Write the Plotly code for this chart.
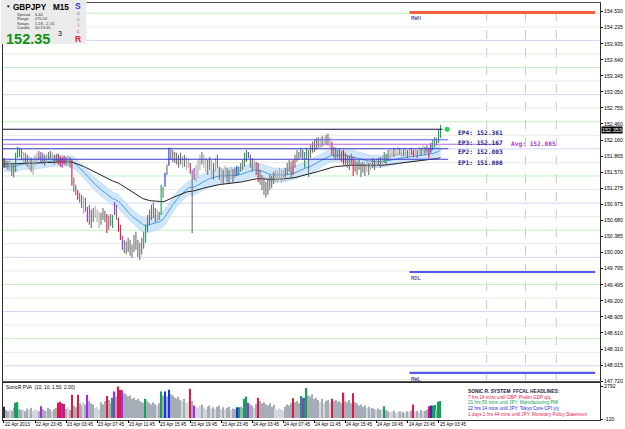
import numpy as np
import plotly.graph_objects as go

# ---------------- data ----------------
bar_high = [151.83, 151.80, 151.78, 151.80, 151.74, 151.71, 151.93, 152.04, 152.02, 152.00,
            151.94, 151.93, 151.89, 151.87, 151.83, 151.80, 151.89, 151.93, 151.96, 151.94,
            151.93, 151.89, 151.91, 151.94, 151.96, 151.93, 151.89, 151.91, 151.91, 151.87,
            151.85, 151.87, 151.85, 151.87, 151.85, 151.80, 151.47, 151.34, 151.24, 151.19,
            151.15, 151.12, 151.10, 150.93, 150.97, 150.88, 150.91, 150.95, 150.88, 150.84,
            150.82, 150.91, 150.86, 150.80, 150.77, 150.80, 150.78, 151.02, 150.97, 150.73,
            150.60, 150.40, 150.32, 150.29, 150.36, 150.32, 150.23, 150.41, 150.47, 150.32,
            150.27, 150.36, 150.47, 150.60, 150.78, 150.88, 150.97, 151.01, 150.91, 150.88,
            150.84, 151.34, 151.30, 151.56, 151.71, 152.02, 152.02, 151.98, 151.94, 151.93,
            151.89, 151.93, 151.87, 151.89, 151.85, 151.83, 151.74, 151.61, 151.65, 151.71,
            151.80, 151.89, 151.94, 151.89, 151.83, 151.80, 151.85, 151.80, 151.74, 151.83,
            151.89, 151.67, 151.65, 151.61, 151.69, 151.65, 151.61, 151.67, 151.63, 151.65,
            151.69, 151.67, 151.74, 151.80, 151.93, 151.98, 151.94, 151.89, 151.83, 151.80,
            151.76, 151.74, 151.61, 151.52, 151.47, 151.39, 151.43, 151.52, 151.50, 151.58,
            151.61, 151.59, 151.65, 151.61, 151.61, 151.65, 151.74, 151.80, 151.76, 151.80,
            151.89, 151.98, 151.94, 152.02, 151.98, 151.94, 152.02, 151.98, 152.07, 152.13,
            152.17, 152.20, 152.22, 152.20, 152.24, 152.22, 152.26, 152.28, 152.22, 152.13,
            152.04, 152.02, 151.98, 152.00, 151.96, 151.98, 151.93, 151.89, 151.87, 151.91,
            151.85, 151.80, 151.76, 151.80, 151.74, 151.76, 151.72, 151.78, 151.74, 151.80,
            151.83, 151.80, 151.82, 151.83, 151.85, 151.87, 151.94, 151.91, 151.98, 152.00,
            151.98, 152.02, 152.00, 152.04, 152.02, 151.98, 152.00, 152.02, 151.98, 152.00,
            152.02, 151.98, 152.00, 151.98, 152.04, 152.02, 152.06, 152.04, 152.07, 152.02,
            152.11, 152.17, 152.22, 152.20, 152.35, 152.44]

bar_low = [151.65, 151.65, 151.61, 151.59, 151.50, 151.47, 151.58, 151.83, 151.85, 151.80,
           151.74, 151.71, 151.67, 151.61, 151.58, 151.52, 151.69, 151.74, 151.80, 151.76,
           151.72, 151.69, 151.74, 151.80, 151.82, 151.76, 151.71, 151.74, 151.71, 151.67,
           151.65, 151.71, 151.69, 151.69, 151.65, 151.32, 151.21, 151.15, 151.06, 151.01,
           150.91, 150.80, 150.84, 150.65, 150.60, 150.54, 150.65, 150.73, 150.65, 150.54,
           150.60, 150.69, 150.65, 150.45, 150.51, 150.58, 150.54, 150.78, 150.69, 150.47,
           150.32, 150.14, 150.08, 150.05, 150.10, 150.03, 149.99, 150.10, 150.14, 150.01,
           149.95, 150.05, 150.16, 150.27, 150.47, 150.60, 150.69, 150.73, 150.65, 150.65,
           150.69, 150.78, 151.10, 151.30, 151.52, 151.69, 151.80, 151.76, 151.74, 151.71,
           151.65, 151.71, 151.65, 151.67, 151.61, 151.65, 151.54, 150.45, 151.43, 151.39,
           151.47, 151.61, 151.71, 151.65, 151.58, 151.52, 151.61, 151.47, 151.43, 151.58,
           151.65, 151.43, 151.37, 151.34, 151.47, 151.39, 151.37, 151.45, 151.39, 151.47,
           151.50, 151.52, 151.58, 151.61, 151.67, 151.76, 151.83, 151.65, 151.58, 151.61,
           151.52, 151.39, 151.34, 151.24, 151.15, 151.10, 151.15, 151.24, 151.28, 151.35,
           151.39, 151.37, 151.43, 151.37, 151.41, 151.47, 151.52, 151.58, 151.47, 151.52,
           151.65, 151.76, 151.80, 151.83, 151.80, 151.65, 151.80, 151.48, 151.83, 151.93,
           151.94, 151.98, 152.02, 152.00, 152.04, 152.06, 152.07, 152.06, 152.02, 151.89,
           151.83, 151.80, 151.83, 151.80, 151.76, 151.71, 151.69, 151.65, 151.61, 151.69,
           151.50, 151.58, 151.52, 151.61, 151.48, 151.56, 151.50, 151.58, 151.52, 151.61,
           151.65, 151.61, 151.67, 151.69, 151.65, 151.71, 151.74, 151.71, 151.80, 151.83,
           151.85, 151.85, 151.87, 151.87, 151.89, 151.83, 151.87, 151.85, 151.83, 151.85,
           151.89, 151.85, 151.87, 151.83, 151.89, 151.87, 151.91, 151.89, 151.93, 151.83,
           151.93, 151.98, 152.02, 152.06, 152.11, 152.20]

# PVA classes: k dark, g gray, l light gray, R red, G green, B blue, P purple
bar_kind = list("kgglggGGgg" "lgglglllgP" "gglgglggRR" "PRglgRggRg" "glgPggglll"
                "gggRggGPgR" "RPgggggggg" "gggGgggggl" "gGgBgBgggg" "gglgllRgPl"
                "llgllgglgl" "gglglgglgg" "BGggGGPggl" "gRgggggggg" "lllllggggR"
                "gggGPGGggg" "ggglglgglR" "gggggRgggg" "Rgggggglgl" "gglgglGggl"
                "lgllglglgl" "gRlglglggR" "BGGgGG")

bar_volume = [1000, 700, 600, 800, 650, 900, 1350, 1400, 800, 700,
              750, 600, 850, 700, 900, 650, 750, 700, 600, 1050,
              800, 650, 700, 900, 750, 600, 800, 900, 1350, 1450,
              1300, 1250, 800, 950, 700, 2050, 1100, 950, 2050, 1300,
              1100, 1400, 1200, 2050, 1500, 1300, 1200, 900, 1000, 800,
              1400, 1200, 1500, 1950, 1600, 1300, 1800, 2350, 1900, 2792,
              2500, 2450, 2200, 2100, 1900, 2000, 1700, 1800, 1600, 1700,
              1500, 1400, 1350, 1700, 1500, 1350, 1200, 1400, 1250, 1100,
              1300, 2350, 2000, 2350, 1900, 2500, 2100, 2000, 1800, 1700,
              1900, 1600, 1500, 1700, 1300, 1400, 2600, 1500, 1100, 1000,
              900, 1100, 1200, 900, 800, 1000, 1100, 850, 950, 800,
              1000, 1100, 800, 950, 750, 900, 1000, 700, 850, 800,
              950, 950, 1000, 900, 1700, 1900, 1350, 1200, 1100, 900,
              1250, 1800, 1500, 1300, 1400, 1200, 1100, 1300, 1000, 1150,
              800, 700, 850, 750, 650, 1000, 1200, 1100, 1300, 1750,
              1400, 1500, 1300, 1950, 1800, 1800, 2650, 2000, 1900, 2100,
              1700, 1800, 1600, 1400, 1700, 1300, 1500, 1600, 1350, 1700,
              1500, 1600, 1400, 1500, 1300, 2250, 1500, 1400, 1600, 1300,
              2200, 1400, 1300, 1100, 1200, 1000, 1100, 900, 1000, 850,
              900, 800, 750, 850, 700, 800, 1050, 700, 600, 500,
              550, 650, 450, 500, 600, 400, 550, 450, 600, 500,
              650, 1200, 550, 650, 500, 700, 600, 650, 750, 1050,
              1100, 1100, 1150, 750, 1450, 1500]

# moving-average starting values (read at the left edge)
ema_fast_seed = 151.67
ema_fast_hi_seed = 151.76
ema_fast_lo_seed = 151.58
ema_slow_seed = 151.72

ep_names = ["EP4", "EP3", "EP2", "EP1"]
ep_levels = [152.361, 152.167, 152.003, 151.808]
avg_level = 152.085
range_names = ["RWH", "RDL", "RWL"]
range_levels = [154.514, 149.730, 147.869]
current_price = 152.353

time_labels = ["22 Apr 2013", "22 Apr 23:45", "23 Apr 03:45", "23 Apr 07:45", "23 Apr 11:45",
               "23 Apr 15:45", "23 Apr 19:45", "23 Apr 23:45", "24 Apr 03:45", "24 Apr 07:45",
               "24 Apr 11:45", "24 Apr 15:45", "24 Apr 19:45", "24 Apr 23:45", "25 Apr 03:45"]
time_label_bars = [0, 16, 32, 48, 64, 80, 96, 112, 128, 144, 160, 176, 192, 208, 224]
future_session_bars = [248.8, 268.8, 284.7]

price_ticks = [154.530, 154.235, 153.935, 153.640, 153.345, 153.050, 152.755, 152.460,
               152.160, 151.865, 151.570, 151.275, 150.975, 150.680, 150.385, 150.090,
               149.795, 149.495, 149.200, 148.905, 148.610, 148.310, 148.015, 147.720]
volume_ticks = [2792, -120]

headlines = ["7 hrs 14 mins until GBP: Prelim GDP q/q",
             "21 hrs 59 mins until JPY: Manufacturing PMI",
             "22 hrs 14 mins until JPY: Tokyo Core CPI y/y",
             "1 days 1 hrs 44 mins until JPY: Monetary Policy Statement"]

# ---------------- styles ----------------
candle_col = {'k': '#1c1c1c', 'g': '#707070', 'l': '#adadad', 'R': '#e5163f',
              'G': '#13a058', 'B': '#1533ee', 'P': '#a628ee'}
vol_col = {'k': '#2e2e38', 'g': '#a6adb6', 'l': '#d3d6da', 'R': '#e5163f',
           'G': '#13a058', 'B': '#1533ee', 'P': '#a628ee'}
headline_col = ['#e5163f', '#13a058', '#1e1ee0', '#e5164f']

W, H = 625, 429
ML, MR, MT, MB = 2, 22, 3, 9
PW = W - ML - MR
PH = H - MT - MB
SP = 1.953                      # px per bar
x_lo = -1.0 / SP
x_hi = x_lo + PW / SP


def px(x):
    return (x - ML) / PW


def py(y):
    return (H - MB - y) / PH


n = len(bar_high)
idx = np.arange(n)
hi = np.array(bar_high)
lo = np.array(bar_low)
med = (hi + lo) / 2


def ema(values, period, seed):
    a = 2.0 / (period + 1)
    out, v = [], seed
    for x in values:
        v = v + a * (x - v)
        out.append(v)
    return out


ema34 = ema(med, 34, ema_fast_seed)
ema34h = ema(hi, 34, ema_fast_hi_seed)
ema34l = ema(lo, 34, ema_fast_lo_seed)
ema89 = ema(med, 89, ema_slow_seed)

fig = go.Figure()

# Dragon band
fig.add_trace(go.Scatter(x=idx, y=ema34l, mode='lines', line=dict(color='#b9d9f5', width=0.8),
                         hoverinfo='skip', xaxis='x', yaxis='y'))
fig.add_trace(go.Scatter(x=idx, y=ema34h, mode='lines', line=dict(color='#b9d9f5', width=0.8),
                         fill='tonexty', fillcolor='rgba(200,226,249,0.85)',
                         hoverinfo='skip', xaxis='x', yaxis='y'))
fig.add_trace(go.Scatter(x=idx, y=ema34, mode='lines', line=dict(color='#4a9de6', width=1),
                         hoverinfo='skip', xaxis='x', yaxis='y'))
fig.add_trace(go.Scatter(x=idx, y=ema89, mode='lines', line=dict(color='#1e1e1e', width=1),
                         hoverinfo='skip', xaxis='x', yaxis='y'))

# candles as high-low sticks grouped by class colour
for k, col in candle_col.items():
    xs, ys = [], []
    for i in range(n):
        if bar_kind[i] == k:
            xs += [i, i, None]
            ys += [bar_low[i], bar_high[i], None]
    if xs:
        fig.add_trace(go.Scatter(x=xs, y=ys, mode='lines', line=dict(color=col, width=1.1),
                                 hoverinfo='skip', xaxis='x', yaxis='y'))

# current price dot
fig.add_trace(go.Scatter(x=[228.4], y=[ep_levels[0]], mode='markers',
                         marker=dict(color='#22d845', size=5), hoverinfo='skip',
                         xaxis='x', yaxis='y'))

# PVA volume
fig.add_trace(go.Bar(x=idx, y=bar_volume, width=0.66,
                     marker=dict(color=[vol_col[k] for k in bar_kind], line=dict(width=0)),
                     hoverinfo='skip', xaxis='x2', yaxis='y2'))

shapes = []
# quarter levels
lvl = 147.75
while lvl < 154.7:
    frac = round(lvl % 1, 2)
    c = '#d4d4f7' if frac == 0 else ('#c3efc3' if frac == 0.5 else '#ebe9df')
    shapes.append(dict(type='line', xref='x', yref='y', x0=x_lo, x1=x_hi, y0=lvl, y1=lvl,
                       line=dict(color=c, width=1), layer='below'))
    lvl += 0.25
# future session separators
for b in future_session_bars:
    shapes.append(dict(type='line', xref='x', yref='y domain', x0=b, x1=b, y0=0, y1=1,
                       line=dict(color='#c9c9c9', width=1, dash='dash'), layer='below'))
# EP and average lines
ep_colors = ['#0c0c3c', '#5b5be2', '#3c3cc8', '#3a3ad2']
ep_ends = [226, 229, 229, 229]
for lv, c, e in zip(ep_levels, ep_colors, ep_ends):
    shapes.append(dict(type='line', xref='x', yref='y', x0=x_lo, x1=e, y0=lv, y1=lv,
                       line=dict(color=c, width=1.1)))
shapes.append(dict(type='line', xref='x', yref='y', x0=x_lo, x1=256, y0=avg_level, y1=avg_level,
                   line=dict(color='#b865d2', width=1.1)))
# range lines
range_colors = ['#f0603e', '#5757ee', '#5757ee']
range_widths = [3.2, 2, 2.2]
for lv, c, w in zip(range_levels, range_colors, range_widths):
    shapes.append(dict(type='line', xref='x', yref='y', x0=209, x1=304.7, y0=lv, y1=lv,
                       line=dict(color=c, width=w)))
# info panel background
shapes.append(dict(type='rect', xref='paper', yref='paper', x0=px(0), x1=px(86), y0=py(44), y1=py(0),
                   fillcolor='#ebebeb', line=dict(width=0)))

ann = []
mono = 'DejaVu Sans Mono'
sans = 'Liberation Sans'
for name, lv in zip(ep_names, ep_levels):
    ann.append(dict(x=233, y=lv, xref='x', yref='y', text=f'<b>{name}: {lv:.3f}</b>',
                    showarrow=False, xanchor='left', yanchor='middle', yshift=-3,
                    font=dict(family=mono, size=6.2, color='#23238f')))
ann.append(dict(x=260.5, y=avg_level, xref='x', yref='y', text=f'<b>Avg: {avg_level:.3f}</b>',
                showarrow=False, xanchor='left', yanchor='middle',
                font=dict(family=mono, size=6.2, color='#a640c8')))
for name, lv in zip(range_names, range_levels):
    ann.append(dict(x=209, y=lv, xref='x', yref='y', text=name, showarrow=False,
                    xanchor='left', yanchor='top', yshift=-1,
                    font=dict(family=mono, size=5.5, color='#2a2a8a')))
# current price box on the axis
ann.append(dict(x=1, y=current_price, xref='paper', yref='y', text=f'{current_price:.3f}',
                showarrow=False, xanchor='left', yanchor='middle', xshift=1,
                bgcolor='#000000', borderpad=0,
                font=dict(family=sans, size=5.5, color='#ffffff')))
# time labels
for b, t in zip(time_label_bars, time_labels):
    ann.append(dict(x=b, y=py(424), xref='x', yref='paper', text=t, showarrow=False,
                    xanchor='left', yanchor='middle', xshift=-1,
                    font=dict(family=sans, size=4.6, color='#000000')))
# indicator caption and headlines
ann.append(dict(x=px(3), y=py(387), xref='paper', yref='paper',
                text='SonicR PVA  (10, 10, 1.50, 2.00)', showarrow=False,
                xanchor='left', yanchor='middle', font=dict(family=sans, size=4.8, color='#000000')))
ann.append(dict(x=px(468), y=py(391.5), xref='paper', yref='paper',
                text='<b>SONIC R. SYSTEM  FFCAL HEADLINES:</b>', showarrow=False,
                xanchor='left', yanchor='middle', font=dict(family=sans, size=4.8, color='#1a1a3a')))
for k, (t, c) in enumerate(zip(headlines, headline_col)):
    ann.append(dict(x=px(468), y=py(397.2 + k * 5.7), xref='paper', yref='paper', text=t,
                    showarrow=False, xanchor='left', yanchor='middle',
                    font=dict(family=sans, size=4.6, color=c)))
# info panel texts
ann.append(dict(x=px(3), y=py(6.5), xref='paper', yref='paper', text='▼', showarrow=False,
                xanchor='left', yanchor='middle', font=dict(family=sans, size=4.5, color='#000')))
ann.append(dict(x=px(10), y=py(7), xref='paper', yref='paper', text='<b>GBPJPY   M15</b>',
                showarrow=False, xanchor='left', yanchor='middle',
                font=dict(family=sans, size=8.2, color='#000')))
info_rows = [("Spread", "6.40"), ("Range", "270.50"), ("Swaps", "1.18, -2.10"), ("Candle", "00:13:35")]
for k, (a, b) in enumerate(info_rows):
    yy = 14.5 + k * 4.4
    ann.append(dict(x=px(14), y=py(yy), xref='paper', yref='paper', text=a, showarrow=False,
                    xanchor='left', yanchor='middle', font=dict(family=sans, size=4.0, color='#333')))
    ann.append(dict(x=px(32), y=py(yy), xref='paper', yref='paper', text=b, showarrow=False,
                    xanchor='left', yanchor='middle', font=dict(family=sans, size=4.0, color='#333')))
ann.append(dict(x=px(3), y=py(38.5), xref='paper', yref='paper', text='<b>152.35</b>',
                showarrow=False, xanchor='left', yanchor='middle',
                font=dict(family=sans, size=14.5, color='#149014')))
ann.append(dict(x=px(55), y=py(34), xref='paper', yref='paper', text='3', showarrow=False,
                xanchor='left', yanchor='middle', font=dict(family=sans, size=7, color='#000')))
sonic = [("S", 6.5, '#1e3ae0', 8.5, True), ("o", 14, '#7a7aa0', 4.8, False), ("n", 19.8, '#8a7ad0', 4.8, False),
         ("i", 25.5, '#e0406a', 4.8, False), ("c", 31, '#c0408a', 4.8, False), ("R", 39, '#e5163f', 8.5, True)]
for ch, yy, c, s, b in sonic:
    ann.append(dict(x=px(78), y=py(yy), xref='paper', yref='paper',
                    text=f'<b>{ch}</b>' if b else ch, showarrow=False, xanchor='center',
                    yanchor='middle', font=dict(family=sans, size=s, color=c)))

main_dom = [py(381), 1]
vol_dom = [0, py(383)]
vol_lo, vol_hi = -177, 3102

fig.update_layout(
    width=W, height=H, margin=dict(l=ML, r=MR, t=MT, b=MB),
    paper_bgcolor='white', plot_bgcolor='white', showlegend=False,
    shapes=shapes, annotations=ann, hovermode=False,
    xaxis=dict(domain=[0, 1], range=[x_lo, x_hi], showgrid=False, zeroline=False,
               showticklabels=False, ticks='', showline=True, mirror=True,
               linecolor='#505050', linewidth=1, anchor='y'),
    yaxis=dict(domain=main_dom, range=[147.72, 154.689], side='right', showgrid=False,
               zeroline=False, tickvals=price_ticks, ticktext=[f'{v:.3f}' for v in price_ticks],
               ticks='outside', ticklen=2, tickcolor='#000', showline=True, mirror=True,
               linecolor='#303030', linewidth=1,
               tickfont=dict(family=sans, size=5.2, color='#000'), anchor='x'),
    xaxis2=dict(domain=[0, 1], range=[x_lo, x_hi], matches='x', showgrid=False, zeroline=False,
                showticklabels=False, tickvals=time_label_bars, ticks='outside', ticklen=2,
                tickcolor='#000', showline=True, mirror=True, linecolor='#303030',
                linewidth=1, anchor='y2'),
    yaxis2=dict(domain=vol_dom, range=[vol_lo, vol_hi], side='right', showgrid=False,
                zeroline=False, tickvals=volume_ticks, ticktext=[str(v) for v in volume_ticks],
                ticks='outside', ticklen=2, tickcolor='#000', showline=True, mirror=True,
                linecolor='#303030', linewidth=1,
                tickfont=dict(family=sans, size=5.2, color='#000'), anchor='x2'),
)

fig.write_html("out.html")
